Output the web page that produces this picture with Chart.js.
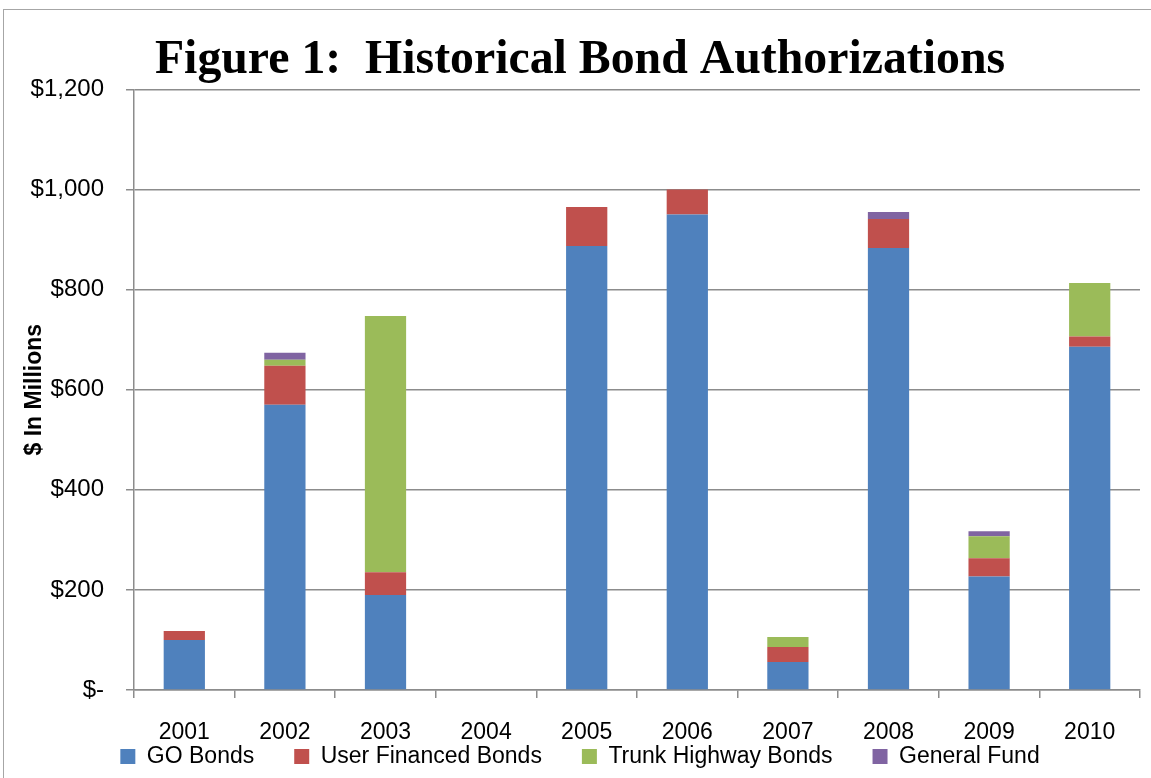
<!DOCTYPE html>
<html>
<head>
<meta charset="utf-8">
<script src="https://cdn.jsdelivr.net/npm/chart.js@4/dist/chart.umd.min.js"></script>
<style>
  body { margin: 0; background: #fff; }
  #wrap { position: relative; width: 1151px; height: 778px; overflow: hidden; }
  #frame { position: absolute; left: 3px; top: 9px; width: 1160px; height: 800px; border: 1.5px solid #a6a6a6; }
  canvas { position: absolute; left: 0; top: 0; }
</style>
</head>
<body>
<div id="wrap">
  <div id="frame"></div>
  <canvas id="grafico" width="1151" height="778"></canvas>
</div>
<script>
const anos = ['2001', '2002', '2003', '2004', '2005', '2006', '2007', '2008', '2009', '2010'];
const goBonds = [100, 570, 190, 0, 887, 950, 56, 883, 227, 686];
const userFinanced = [18, 78, 45, 0, 78, 50, 30, 58, 36, 20];
const trunkHighway = [0, 12, 512, 0, 0, 0, 20, 0, 44, 107];
const generalFund = [0, 14, 0, 0, 0, 0, 0, 14, 10, 0];
const yTicks = [0, 200, 400, 600, 800, 1000, 1200];

const corGrade = '#8c8c8c';
const fonteTexto = "'Liberation Sans', Arial, sans-serif";

function formatarDolar(v) {
  if (v === 0) return '$-';
  return '$' + v.toLocaleString('en-US');
}

function serie(label, data, cor) {
  return { label, data, backgroundColor: cor, borderWidth: 0 };
}

const ctx = document.getElementById('grafico').getContext('2d');

new Chart(ctx, {
  type: 'bar',
  data: {
    labels: anos,
    datasets: [
      serie('GO Bonds', goBonds, '#4F81BD'),
      serie('User Financed Bonds', userFinanced, '#C0504D'),
      serie('Trunk Highway Bonds', trunkHighway, '#9BBB59'),
      serie('General Fund', generalFund, '#8064A2')
    ]
  },
  options: {
    responsive: false,
    animation: false,
    layout: { padding: { left: 20, right: 11, top: 0, bottom: 0 } },
    datasets: { bar: { categoryPercentage: 1, barPercentage: 0.41 } },
    plugins: {
      title: {
        display: true,
        text: 'Figure 1:  Historical Bond Authorizations',
        color: '#000',
        font: { family: "'Liberation Serif', 'Times New Roman', serif", size: 47.8, weight: 'bold' },
        padding: { top: 32, bottom: 0 }
      },
      legend: {
        position: 'bottom',
        labels: {
          color: '#000',
          font: { family: fonteTexto, size: 23 },
          boxWidth: 15,
          boxHeight: 15,
          padding: 40
        }
      },
      tooltip: { enabled: false }
    },
    scales: {
      x: {
        stacked: true,
        grid: {
          display: true,
          offset: true,
          drawOnChartArea: false,
          drawTicks: true,
          tickLength: 8,
          color: corGrade,
          lineWidth: 1.5
        },
        border: { color: corGrade, width: 1.5 },
        ticks: {
          color: '#000',
          font: { family: fonteTexto, size: 23 },
          padding: 21,
          maxRotation: 0
        },
        afterFit: scale => {
          // eixo baixo, os rótulos ficam por cima da legenda sem corte
          scale.height = 15;
          scale._computeLabelArea = () => undefined;
        }
      },
      y: {
        stacked: true,
        min: 0,
        max: 1200,
        afterBuildTicks: scale => { scale.ticks = yTicks.map(v => ({ value: v })); },
        grid: {
          color: corGrade,
          lineWidth: 1.5,
          tickLength: 8
        },
        border: { color: corGrade, width: 1.5 },
        ticks: {
          color: '#000',
          font: { family: fonteTexto, size: 24 },
          padding: 22,
          callback: v => formatarDolar(v)
        },
        title: {
          display: true,
          text: '$ In Millions',
          color: '#000',
          font: { family: fonteTexto, size: 23, weight: 'bold' },
          padding: { top: 1, bottom: 0 }
        },
        afterFit: scale => { scale.width = 114; }
      }
    }
  }
});
</script>
</body>
</html>
